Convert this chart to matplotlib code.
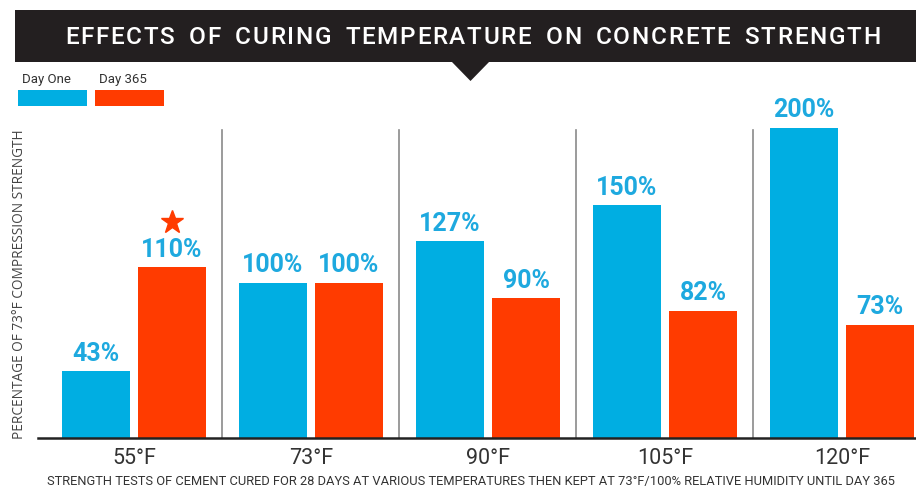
import matplotlib
matplotlib.use("Agg")
import matplotlib.pyplot as plt
from matplotlib.patches import Rectangle, Polygon
import numpy as np

categories = ["55°F", "73°F", "90°F", "105°F", "120°F"]
day_one = [43, 100, 127, 150, 200]
day_365 = [110, 100, 90, 82, 73]
series_names = ["Day One", "Day 365"]
title = "EFFECTS OF CURING TEMPERATURE ON CONCRETE STRENGTH"
ylabel = "PERCENTAGE OF 73°F COMPRESSION STRENGTH"
footnote = "STRENGTH TESTS OF CEMENT CURED FOR 28 DAYS AT VARIOUS TEMPERATURES THEN KEPT AT 73°F/100% RELATIVE HUMIDITY UNTIL DAY 365"
star_category = 0

BLUE = "#00aee2"
RED = "#ff3b00"
LABEL_BLUE = "#1ea9df"
TEXT = "#333333"
COND = ["Liberation Sans Narrow", "Roboto", "DejaVu Sans"]

W, H = 916, 490
fig = plt.figure(figsize=(W / 100, H / 100), dpi=100)
fig.patch.set_facecolor("white")

def fx(px):
    return px / W

def fy(py):
    return 1 - py / H

renderer = fig.canvas.get_renderer()

# Banner
fig.patches.append(Rectangle((fx(15), fy(62)), fx(916) - fx(15), fy(10) - fy(62),
                             transform=fig.transFigure, facecolor="#231f20", edgecolor="none"))
fig.patches.append(Polygon([(fx(451), fy(61)), (fx(490), fy(61)), (fx(470.5), fy(81))],
                           closed=True, transform=fig.transFigure, facecolor="#231f20", edgecolor="none"))

# letter-spaced title
title_left, title_right = 65, 880
chars = []
widths = []
for ch in title:
    t = fig.text(0, fy(37), ch if ch != " " else "I", color="white", fontsize=17.5,
                 fontweight="medium", family=["Roboto", "DejaVu Sans"], ha="left", va="center")
    w = t.get_window_extent(renderer).width
    if ch == " ":
        t.set_text("")
        w = w * 1.6
    chars.append(t)
    widths.append(w)
gap = (title_right - title_left - sum(widths)) / (len(title) - 1)
xpos = title_left
for t, w in zip(chars, widths):
    t.set_x(fx(xpos))
    xpos += w + gap

# Legend
for i, (name, col) in enumerate(zip(series_names, [BLUE, RED])):
    x0 = 18 + i * 77
    fig.patches.append(Rectangle((fx(x0), fy(106)), fx(69), fy(90) - fy(106),
                                 transform=fig.transFigure, facecolor=col, edgecolor="none"))
    fig.text(fx(x0 + 4), fy(79), name, color=TEXT, fontsize=9.5, family=COND, ha="left", va="center")

# Main axes
ax = fig.add_axes([fx(38), fy(438), 1 - fx(38), fy(100) - fy(438)])
x = np.arange(len(categories))
bw = 0.384
off = 0.215
b1 = ax.bar(x - off, day_one, width=bw, color=BLUE, zorder=2)
b2 = ax.bar(x + off, day_365, width=bw, color=RED, zorder=2)
ax.set_xlim(-0.542, 4.418)
ax.set_ylim(0, 218)

for bars, vals in [(b1, day_one), (b2, day_365)]:
    for b, v in zip(bars, vals):
        ax.annotate(f"{v}%", (b.get_x() + b.get_width() / 2, v), xytext=(0, 4),
                    textcoords="offset points", ha="center", va="bottom",
                    color=LABEL_BLUE, fontsize=18, fontweight="bold",
                    family=["Roboto", "DejaVu Sans"])

# star above highlighted bar
ax.plot([x[star_category] + off], [day_365[star_category] + 29], marker="*", markersize=17,
        color=RED, markeredgecolor=RED, linestyle="none", zorder=3)

# separators
for s in x[:-1] + 0.5:
    ax.plot([s, s], [0, 198.7], color="#8a8a8a", linewidth=1.2, zorder=1)

for side in ["top", "right", "left"]:
    ax.spines[side].set_visible(False)
ax.spines["bottom"].set_color("#222222")
ax.spines["bottom"].set_linewidth(1.8)
ax.set_yticks([])
ax.set_xticks(x)
ax.set_xticklabels(categories, fontsize=15.5, color=TEXT, family=COND)
ax.tick_params(axis="x", length=0, pad=7)

fig.text(fx(20), fy(284), ylabel, rotation=90, color="#444444", fontsize=9.8,
         family=["Open Sans", "DejaVu Sans"], ha="center", va="center")
fig.text(fx(47), fy(481), footnote, color=TEXT, fontsize=9.3, family=COND, ha="left", va="center")

fig.savefig("out.png", dpi=100)
